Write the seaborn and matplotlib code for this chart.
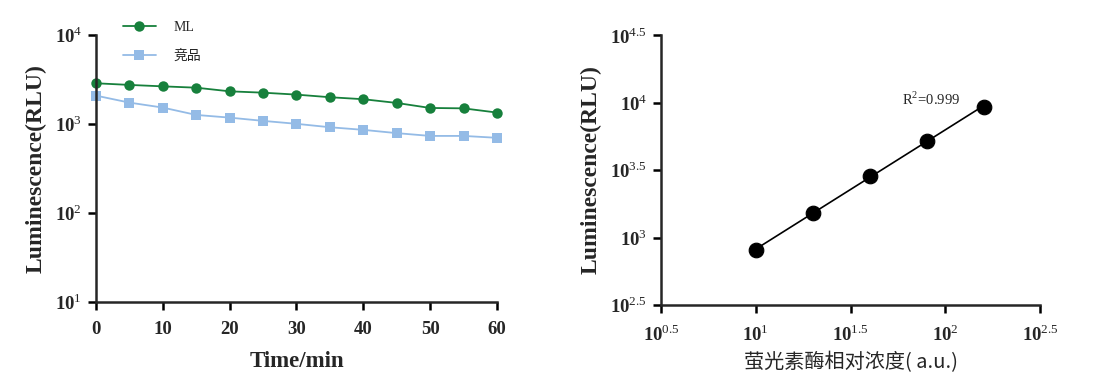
import numpy as np
import pandas as pd
import matplotlib
matplotlib.use("Agg")
import matplotlib.pyplot as plt
import seaborn as sns

# left panel: luminescence decay over time
time_min = [0, 5, 10, 15, 20, 25, 30, 35, 40, 45, 50, 55, 60]
rlu_ml = [2870, 2750, 2650, 2560, 2330, 2250, 2140, 2000, 1900, 1725, 1515, 1500, 1345]
rlu_comp = [2085, 1740, 1530, 1265, 1180, 1085, 1005, 920, 860, 790, 735, 735, 700]
groups = ["ML", "竞品"]

# right panel: standard curve
conc = [10, 20, 40, 80, 160]
rlu_std = [810, 1515, 2855, 5210, 9340]
r2_text = "R$^2$=0.999"

sns.set_style("ticks")
plt.rcParams["font.family"] = ["Liberation Serif", "Noto Sans CJK SC"]
plt.rcParams["mathtext.fontset"] = "custom"
plt.rcParams["mathtext.rm"] = "Liberation Serif"
plt.rcParams["mathtext.bf"] = "Liberation Serif:bold"

df = pd.DataFrame({
    "time": time_min * 2,
    "rlu": rlu_ml + rlu_comp,
    "group": [groups[0]] * len(time_min) + [groups[1]] * len(time_min),
})

fig = plt.figure(figsize=(10.97, 3.90), dpi=100)
ax1 = fig.add_axes([0.0875, 0.2256, 0.3655, 0.6846])
ax2 = fig.add_axes([0.6026, 0.218, 0.3455, 0.692])

pal = {"ML": "#17803c", "竞品": "#94bbe6"}
sns.lineplot(data=df, x="time", y="rlu", hue="group", style="group",
             markers={"ML": "o", "竞品": "s"}, dashes=False, palette=pal,
             markersize=7.5, markeredgewidth=0, linewidth=1.3, ax=ax1, clip_on=False)
ax1.set_yscale("log")
ax1.set_ylim(10, 1e4)
ax1.set_xlim(0, 60)
ax1.set_xticks(range(0, 61, 10))
ax1.set_xticklabels([str(t) for t in range(0, 61, 10)], fontweight="bold", fontsize=13.5)
ax1.set_yticks([1e1, 1e2, 1e3, 1e4])
ax1.set_yticklabels([r"$\mathbf{10}^{%d}$" % e for e in [1, 2, 3, 4]], fontsize=13.5)
ax1.yaxis.set_minor_locator(matplotlib.ticker.NullLocator())
ax1.set_xlabel("Time/min", fontsize=16.5, fontweight="bold", labelpad=9)
ax1.set_ylabel("Luminescence(RLU)", fontsize=17, fontweight="bold", labelpad=6)
leg = ax1.legend(loc="upper left", bbox_to_anchor=(0.035, 1.1), frameon=False,
                 handlelength=2.4, labelspacing=1.15, fontsize=10, handletextpad=1.3)

# right panel
sns.scatterplot(x=conc, y=rlu_std, color="black", s=110, edgecolor="black", ax=ax2, zorder=3)
lx = np.log10(conc)
ly = np.log10(rlu_std)
k, b = np.polyfit(lx, ly, 1)
fx = np.array([lx[0], lx[-1]])
ax2.plot(10 ** fx, 10 ** (k * fx + b), color="black", linewidth=1.2)
ax2.set_xscale("log")
ax2.set_yscale("log")
ax2.set_xlim(10 ** 0.5, 10 ** 2.5)
ax2.set_ylim(10 ** 2.5, 10 ** 4.5)
xe = [0.5, 1, 1.5, 2, 2.5]
ye = [2.5, 3, 3.5, 4, 4.5]
ax2.set_xticks([10 ** e for e in xe])
ax2.set_xticklabels([r"$\mathbf{10}^{%g}$" % e for e in xe], fontsize=13.5)
ax2.set_yticks([10 ** e for e in ye])
ax2.set_yticklabels([r"$\mathbf{10}^{%g}$" % e for e in ye], fontsize=13.5)
ax2.xaxis.set_minor_locator(matplotlib.ticker.NullLocator())
ax2.yaxis.set_minor_locator(matplotlib.ticker.NullLocator())
ax2.set_xlabel("萤光素酶相对浓度( a.u.)", fontsize=14.5, family=["Noto Sans CJK SC"], labelpad=5)
ax2.set_ylabel("Luminescence(RLU)", fontsize=17, fontweight="bold", labelpad=6)
ax2.text(10 ** 1.77, 10 ** 3.98, r2_text, fontsize=10.5)

for ax in (ax1, ax2):
    sns.despine(ax=ax)
    for s in ("left", "bottom"):
        ax.spines[s].set_linewidth(1.8)
    ax.tick_params(axis="both", which="major", width=1.8, length=6, color="black", pad=4)
    ax.tick_params(axis="x", pad=8)

fig.savefig("out.png", dpi=100)
